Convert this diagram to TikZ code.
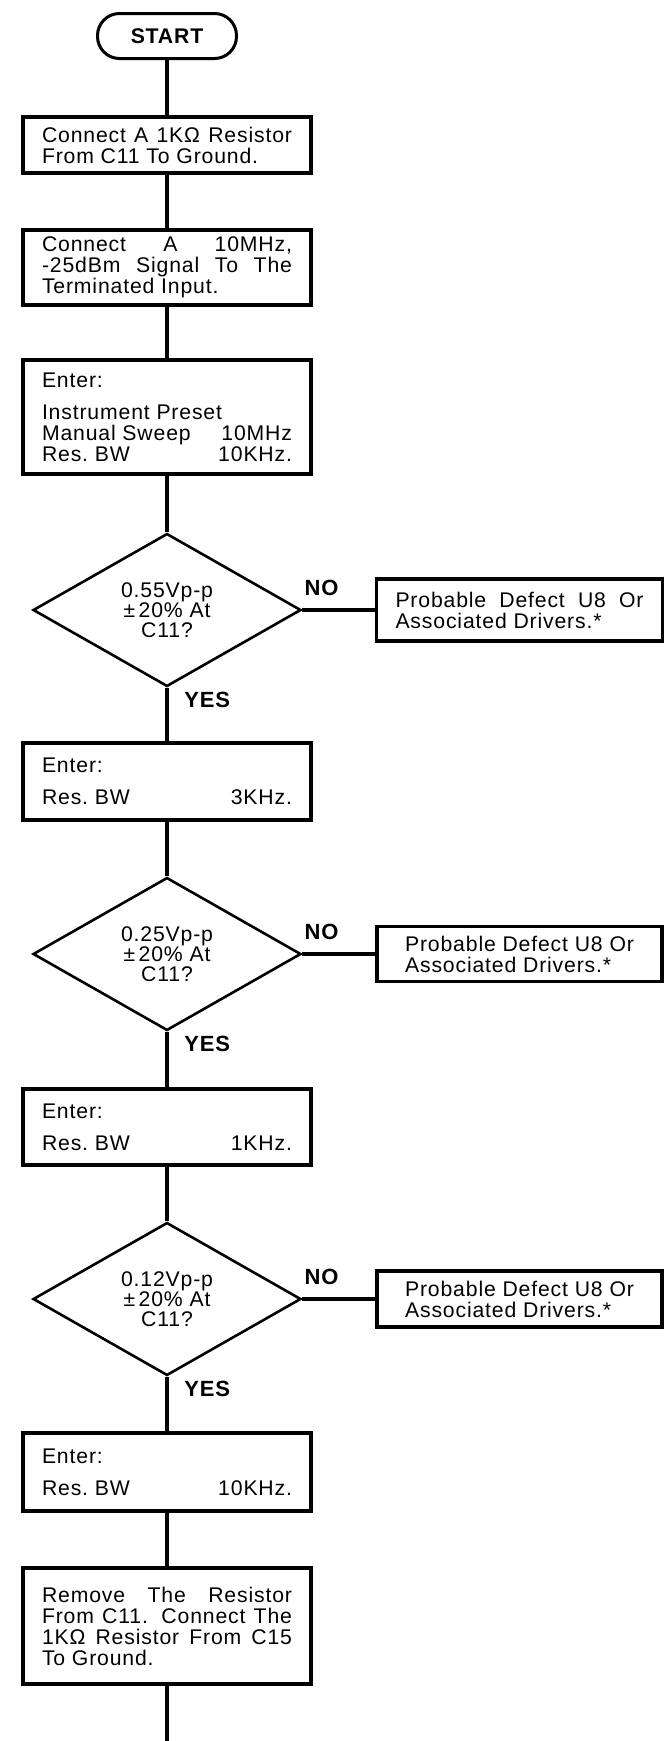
\documentclass[tikz,border=0pt]{standalone}
\usepackage{fontspec}
\setmainfont{Liberation Sans}[LetterSpace=4]
\usetikzlibrary{shapes.geometric}

\begin{document}
\begin{tikzpicture}[x=0.5pt, y=-0.5pt,
  font=\fontsize{10.6}{10.5}\selectfont,
  term/.style={draw, rectangle, rounded corners=11pt, line width=1.5pt, minimum width=69.5pt, minimum height=22.5pt, font=\fontsize{10.6}{10.5}\selectfont\bfseries},
  stepbox/.style={draw, rectangle, line width=1.6pt, text width=125pt, inner xsep=9.5pt, align=justify},
  decide/.style={draw, diamond, line width=1.3pt, minimum width=134pt, minimum height=76.5pt, inner sep=0pt, align=center, font=\fontsize{10.6}{10}\selectfont},
  faultbox/.style={draw, rectangle, line width=1.6pt, minimum width=142.5pt, align=left},
  flow/.style={line width=2.4pt},
  flag/.style={inner sep=0pt, font=\fontsize{11}{11}\selectfont\bfseries}]
\useasboundingbox (0,0) rectangle (664,1741);

\node[term] (start) at (167,36) {START};
\node[stepbox, minimum height=28pt] (conn) at (167,145) {Connect A 1KΩ Resistor\linebreak From C11 To Ground.};
\node[stepbox, minimum height=37.5pt] (sig) at (167,267.5) {Connect A 10MHz,\linebreak -25dBm Signal To The\linebreak Terminated Input.};
\node[stepbox, minimum height=57pt] (preset) at (167,417) {Enter:\\[5.5pt] Instrument Preset\\ Manual Sweep\hfill 10MHz\\ Res.\ BW\hfill 10KHz.};

\node[decide] (chka) at (167,610) {0.55Vp-p\\±\,20\% At\\C11?};
\node[faultbox, text width=124pt, inner xsep=9.5pt, align=justify, minimum height=31pt] (faila) at (519.5,610) {Probable Defect U8 Or\linebreak Associated Drivers.*};

\node[stepbox, minimum height=38.5pt] (bwa) at (167,781.5) {Enter:\\[5.5pt] Res.\ BW\hfill 3KHz.};

\node[decide] (chkb) at (167,954) {0.25Vp-p\\±\,20\% At\\C11?};
\node[faultbox, minimum height=27.5pt] (failb) at (519.5,954) {Probable Defect U8 Or\\ Associated Drivers.*};

\node[stepbox, minimum height=38pt] (bwb) at (167,1127) {Enter:\\[5.5pt] Res.\ BW\hfill 1KHz.};

\node[decide] (chkc) at (167,1299) {0.12Vp-p\\±\,20\% At\\C11?};
\node[faultbox, minimum height=28pt] (failc) at (519.5,1299) {Probable Defect U8 Or\\ Associated Drivers.*};

\node[stepbox, minimum height=39pt] (bwc) at (167,1472) {Enter:\\[5.5pt] Res.\ BW\hfill 10KHz.};
\node[stepbox, minimum height=58pt] (move) at (167,1626) {Remove The Resistor\linebreak From C11. Connect The\linebreak 1KΩ Resistor From C15\linebreak To Ground.};
\coordinate (tail) at (167,1741);

\draw[flow] (start)--(conn);
\draw[flow] (conn)--(sig);
\draw[flow] (sig)--(preset);
\draw[flow] (preset)--(chka);
\draw[flow] (chka.east)-- node[pos=0, flag, anchor=south west, yshift=6pt]{NO} (faila.west);
\draw[flow] (chka.south)-- node[pos=0, flag, anchor=north west, xshift=7.5pt, yshift=-1pt]{YES} (bwa);
\draw[flow] (bwa)--(chkb);
\draw[flow] (chkb.east)-- node[pos=0, flag, anchor=south west, yshift=6pt]{NO} (failb.west);
\draw[flow] (chkb.south)-- node[pos=0, flag, anchor=north west, xshift=7.5pt, yshift=-1pt]{YES} (bwb);
\draw[flow] (bwb)--(chkc);
\draw[flow] (chkc.east)-- node[pos=0, flag, anchor=south west, yshift=6pt]{NO} (failc.west);
\draw[flow] (chkc.south)-- node[pos=0, flag, anchor=north west, xshift=7.5pt, yshift=-1pt]{YES} (bwc);
\draw[flow] (bwc)--(move);
\draw[flow] (move)--(tail);
\end{tikzpicture}
\end{document}
